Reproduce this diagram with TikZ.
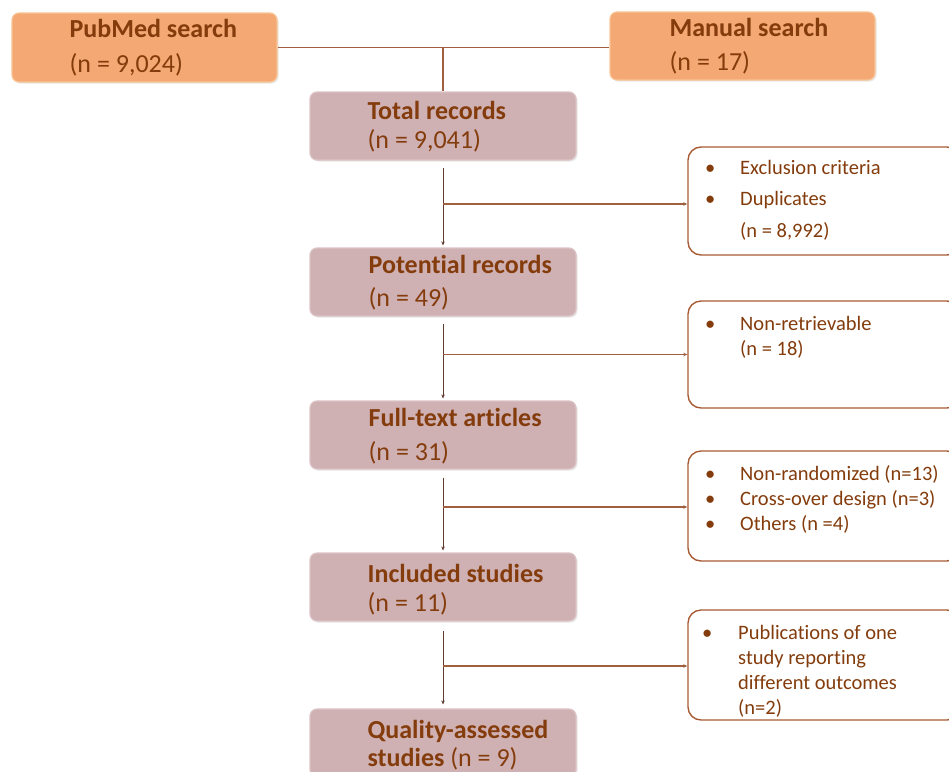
\documentclass[tikz,border=0pt]{standalone}
\usepackage{fontspec}
\setmainfont{Carlito}[Ligatures=NoCommon]
\usetikzlibrary{arrows.meta,shadows,calc}
\definecolor{txt}{HTML}{843C0C}
\definecolor{orfill}{HTML}{F4A873}
\definecolor{ordraw}{HTML}{F8C496}
\definecolor{mvfill}{HTML}{CFB1B4}
\definecolor{mvdraw}{HTML}{DCC3C5}
\definecolor{exdraw}{HTML}{A85B34}
\definecolor{lnA}{HTML}{A0603F}
\definecolor{lnB}{HTML}{5E3A2C}
\begin{document}
\begin{tikzpicture}[x=1pt,y=-1pt,
  srcbox/.style={draw=ordraw, line width=1.2pt, fill=orfill, rounded corners=7pt,
     minimum width=265pt, minimum height=69pt, inner sep=0pt,
     drop shadow={opacity=0.18, shadow xshift=1.5pt, shadow yshift=-1.5pt}},
  stagebox/.style={draw=mvdraw, line width=1.2pt, fill=mvfill, rounded corners=7pt,
     minimum width=266pt, minimum height=68pt, inner sep=0pt,
     drop shadow={opacity=0.18, shadow xshift=1.5pt, shadow yshift=-1.5pt}},
  exbox/.style={draw=exdraw, line width=1.4pt, fill=white, rounded corners=13pt,
     minimum width=272pt, inner sep=0pt},
  ltext/.style={anchor=west, align=left, text=txt, inner sep=0pt},
  rtext/.style={anchor=north west, align=left, text=txt, inner sep=0pt},
  topline/.style={draw=lnA, line width=1.6pt},
  mainarrow/.style={draw=lnB, line width=1pt, -{Stealth[length=4pt,width=3.5pt]}},
  brarrow/.style={draw=lnA, line width=1.2pt, -{Stealth[length=4pt,width=3.5pt]}}
]
\useasboundingbox (0,0) rectangle (949,771);
\clip (0,0) rectangle (949,771);

% source boxes
\node[srcbox] (pub) at (144.5,47.5) {};
\node[srcbox, minimum height=68pt] (man) at (742.5,46) {};
\node[ltext, font=\fontsize{26}{35}\selectfont] (pubT) at ($(pub.west)+(58,0)$)
  {\textbf{PubMed search}\\(n = 9,024)};
\node[ltext, font=\fontsize{26}{34}\selectfont] (manT) at ($(man.west)+(60,0)$)
  {\textbf{Manual search}\\(n = 17)};

% stage boxes
\node[stagebox] (total) at (443,126) {};
\node[stagebox] (pot) at (443,282) {};
\node[stagebox] (full) at (443,435) {};
\node[stagebox] (incl) at (443,587) {};
\node[stagebox] (qual) at (443,743) {};

\node[ltext, font=\fontsize{26}{29}\selectfont] (totalT) at ($(total.west)+(58,1)$)
  {\textbf{Total records}\\(n = 9,041)};
\node[ltext, font=\fontsize{26}{33}\selectfont] (potT) at ($(pot.west)+(59,1)$)
  {\textbf{Potential records}\\(n = 49)};
\node[ltext, font=\fontsize{26}{34}\selectfont] (fullT) at ($(full.west)+(59,1)$)
  {\textbf{Full-text articles}\\(n = 31)};
\node[ltext, font=\fontsize{26}{29}\selectfont] (inclT) at ($(incl.west)+(58,3)$)
  {\textbf{Included studies}\\(n = 11)};
\node[ltext, font=\fontsize{26}{28}\selectfont] (qualT) at ($(qual.west)+(58,2)$)
  {\textbf{Quality-assessed}\\\textbf{studies} (n = 9)};

% exclusion boxes
\node[exbox, minimum height=108pt] (ex1) at (824,201) {};
\node[exbox, minimum height=107pt] (ex2) at (824,354.5) {};
\node[exbox, minimum height=110pt] (ex3) at (824,506) {};
\node[exbox, minimum height=110pt] (ex4) at (824,665) {};

\node[rtext, font=\fontsize{20.5}{31.5}\selectfont] (ex1T) at (705,160)
  {\makebox[35pt][l]{•}Exclusion criteria\\\makebox[35pt][l]{•}Duplicates\\\hspace*{35pt}(n = 8,992)};
\node[rtext, font=\fontsize{20.5}{25}\selectfont] (ex2T) at (705,316)
  {\makebox[35pt][l]{•}Non-retrievable\\\hspace*{35pt}(n = 18)};
\node[rtext, font=\fontsize{20.5}{25}\selectfont] (ex3T) at (705,465)
  {\makebox[35pt][l]{•}Non-randomized (n=13)\\\makebox[35pt][l]{•}Cross-over design (n=3)\\\makebox[35pt][l]{•}Others (n =4)};
\node[rtext, font=\fontsize{20.5}{25}\selectfont] (ex4T) at (702,625)
  {\makebox[36pt][l]{•}Publications of one\\\hspace*{36pt}study reporting\\\hspace*{36pt}different outcomes\\\hspace*{36pt}(n=2)};

% top connectors
\coordinate (j0) at (pub.east -| total.north);
\draw[topline] (pub.east) -- (pub.east -| man.west);
\draw[topline] (j0) -- (total.north);

% main arrows
\draw[mainarrow, shorten <=7pt, shorten >=2pt] (total.south) -- (pot.north);
\draw[mainarrow, shorten <=7pt, shorten >=2pt] (pot.south) -- (full.north);
\draw[mainarrow, shorten <=8pt, shorten >=2pt] (full.south) -- (incl.north);
\draw[mainarrow, shorten <=9pt, shorten >=4pt] (incl.south) -- (qual.north);

% branch arrows
\draw[brarrow] ($(total.south |- ex1.west)+(0,3)$) -- ($(ex1.west)+(0,3)$);
\draw[brarrow] (pot.south |- ex2.west) -- (ex2.west);
\draw[brarrow] ($(full.south |- ex3.west)+(0,1)$) -- ($(ex3.west)+(0,1)$);
\draw[brarrow] ($(incl.south |- ex4.west)+(0,1)$) -- ($(ex4.west)+(0,1)$);
\end{tikzpicture}
\end{document}
